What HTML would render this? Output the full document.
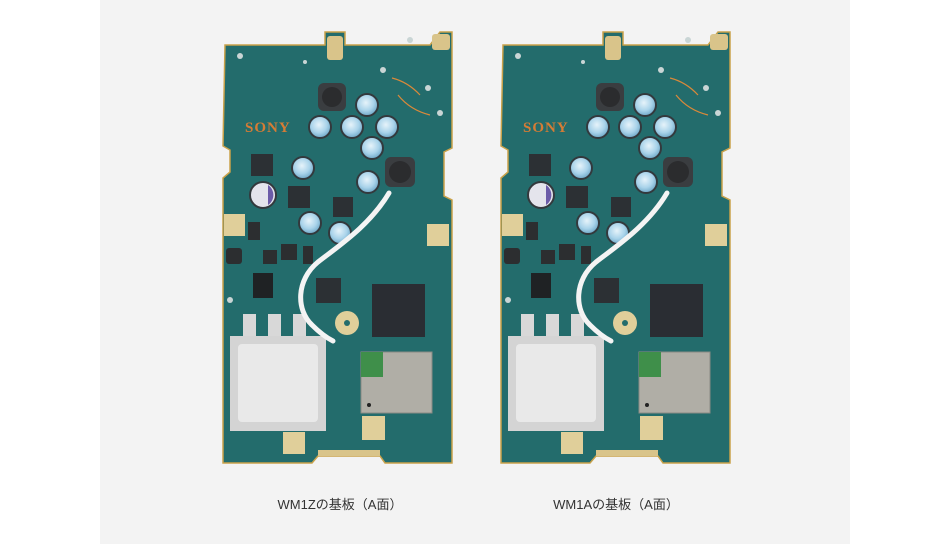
<!DOCTYPE html>
<html><head><meta charset="utf-8"><style>
html,body{margin:0;padding:0;background:#fff;}
.wrap{position:relative;width:950px;height:544px;overflow:hidden;background:#fff;}
.panel{position:absolute;left:100px;top:0;width:750px;height:544px;background:#f3f3f3;}
svg{position:absolute;left:0;top:0;}
.cap{position:absolute;top:494px;font:13px "Liberation Sans","Noto Sans CJK JP",sans-serif;color:#333;width:240px;text-align:center;}
</style></head><body><div class="wrap">
<div class="panel"></div>
<svg width="950" height="544" viewBox="0 0 950 544">
<defs>
<radialGradient id="capg" cx="45%" cy="40%" r="60%"><stop offset="0" stop-color="#e6f3fa"/><stop offset="0.6" stop-color="#a9d3ea"/><stop offset="1" stop-color="#6fa8c8"/></radialGradient>
<g id="board">
<path d="M225,45 L325,45 L325,32 L345,32 L345,45 L430,45 L440,32 L452,32 L452,148 L444,152 L444,196 L452,200 L452,463 L385,463 L380,456 L318,456 L312,463 L223,463 L223,178 L230,172 L230,150 L223,146 Z" fill="#236c6c"/>
<path d="M225,45 L325,45 L325,32 L345,32 L345,45 L430,45 L440,32 L452,32 L452,148 L444,152 L444,196 L452,200 L452,463 L385,463 L380,456 L318,456 L312,463 L223,463 L223,178 L230,172 L230,150 L223,146 Z" fill="none" stroke="#c9a24a" stroke-width="1.5"/>
<rect x="327" y="36" width="16" height="24" rx="3" fill="#d9c48a"/>
<rect x="432" y="34" width="18" height="16" rx="3" fill="#d9c48a"/>
<rect x="224" y="214" width="21" height="22" fill="#e0cf9a"/>
<rect x="427" y="224" width="22" height="22" fill="#e0cf9a"/>
<rect x="362" y="416" width="23" height="24" fill="#e0cf9a"/>
<rect x="283" y="432" width="22" height="22" fill="#e0cf9a"/>
<rect x="318" y="450" width="62" height="6" fill="#d9c48a"/>
<circle cx="347" cy="323" r="12" fill="#e0cf9a"/><circle cx="347" cy="323" r="3" fill="#236c6c"/>
<path d="M392,78 Q408,82 420,95 M398,95 Q410,110 430,115" stroke="#d9893a" stroke-width="1.2" fill="none"/>
<text x="245" y="132" font-family="Liberation Serif,serif" font-weight="bold" font-size="15" fill="#d67c35" letter-spacing="1">SONY</text>
<rect x="318" y="83" width="28" height="28" rx="6" fill="#3a3d40"/><circle cx="332" cy="97" r="10" fill="#2b2c2e"/>
<rect x="385" y="157" width="30" height="30" rx="6" fill="#3a3d40"/><circle cx="400" cy="172" r="11" fill="#2b2c2e"/>
<rect x="251" y="154" width="22" height="22" fill="#2c3034"/>
<rect x="288" y="186" width="22" height="22" fill="#2c3034"/>
<rect x="333" y="197" width="20" height="20" fill="#2c3034"/>
<rect x="316" y="278" width="25" height="25" fill="#2c3034"/>
<rect x="372" y="284" width="53" height="53" fill="#2a2d33"/>
<rect x="253" y="273" width="20" height="25" fill="#1f2224"/>
<rect x="226" y="248" width="16" height="16" rx="3" fill="#2c2e30"/>
<rect x="281" y="244" width="16" height="16" fill="#2c2e30"/>
<rect x="303" y="246" width="10" height="18" fill="#2c2e30"/>
<rect x="248" y="222" width="12" height="18" fill="#2c2e30"/>
<rect x="263" y="250" width="14" height="14" fill="#2c2e30"/>
<g fill="url(#capg)" stroke="#33393d" stroke-width="2">
<circle cx="320" cy="127" r="11"/><circle cx="352" cy="127" r="11"/><circle cx="367" cy="105" r="11"/>
<circle cx="387" cy="127" r="11"/><circle cx="372" cy="148" r="11"/><circle cx="368" cy="182" r="11"/>
<circle cx="303" cy="168" r="11"/><circle cx="310" cy="223" r="11"/><circle cx="340" cy="233" r="11"/>
</g>
<circle cx="263" cy="195" r="13" fill="#e4e4ec" stroke="#33393d" stroke-width="2"/>
<path d="M268,185 A12,12 0 0 1 268,205 Z" fill="#6b5ba8"/>
<rect x="243" y="314" width="13" height="22" fill="#d8d8d8"/><rect x="268" y="314" width="13" height="22" fill="#d8d8d8"/><rect x="293" y="314" width="13" height="22" fill="#d8d8d8"/>
<rect x="230" y="336" width="96" height="95" fill="#d4d4d4"/>
<rect x="238" y="344" width="80" height="78" rx="4" fill="#e9e9e9"/>
<rect x="361" y="352" width="71" height="61" fill="#b0aea6" stroke="#8a8a84"/>
<rect x="361" y="352" width="22" height="25" fill="#3f8f4a"/>
<circle cx="369" cy="405" r="2" fill="#222"/>
<path d="M389,193 C370,225 340,245 318,262 C296,280 296,310 312,325 C320,333 327,338 333,341" stroke="#f4f4f4" stroke-width="5" fill="none" stroke-linecap="round"/>
<g fill="#c9d5d5"><circle cx="305" cy="62" r="2"/><circle cx="410" cy="40" r="3"/><circle cx="383" cy="70" r="3"/><circle cx="428" cy="88" r="3"/><circle cx="440" cy="113" r="3"/><circle cx="230" cy="300" r="3"/><circle cx="240" cy="56" r="3"/></g>
</g>
</defs>
<use href="#board"/>
<use href="#board" transform="translate(278,0)"/>
</svg>
<div class="cap" style="left:220px">WM1Zの基板（A面）</div>
<div class="cap" style="left:496px">WM1Aの基板（A面）</div>
</div></body></html>
